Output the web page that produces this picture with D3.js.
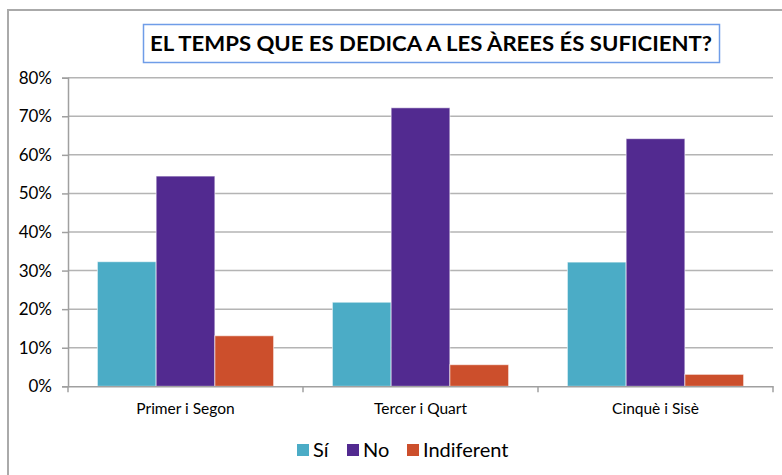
<!DOCTYPE html>
<html>
<head>
<meta charset="utf-8">
<script src="https://cdn.jsdelivr.net/npm/d3@7"></script>
<style>
  body { margin: 0; background: #fff; }
  text { font-family: Lato, "Open Sans", sans-serif; }
</style>
</head>
<body>
<svg id="chart"></svg>
<script>
const categories = ["Primer i Segon", "Tercer i Quart", "Cinquè i Sisè"];
const seriesNames = ["Sí", "No", "Indiferent"];
const siValues = [0.323, 0.218, 0.322];
const noValues = [0.545, 0.722, 0.642];
const indiferentValues = [0.131, 0.056, 0.031];
const yTicks = [0, 0.1, 0.2, 0.3, 0.4, 0.5, 0.6, 0.7, 0.8];
const colors = ["#4bacc6", "#522a90", "#cc4f2c"];
const title = "EL TEMPS QUE ES DEDICA A LES ÀREES ÉS SUFICIENT?";

const width = 782, height = 475;
const svg = d3.select("#chart").attr("width", width).attr("height", height);

// outer frame (top + left only visible)
svg.append("path")
    .attr("d", "M8,475 V10 H782")
    .attr("fill", "none")
    .attr("stroke", "#aaaaaa")
    .attr("stroke-width", 2);

// title box
svg.append("rect")
    .attr("x", 143.5).attr("y", 24.5)
    .attr("width", 576).attr("height", 38)
    .attr("fill", "#fff")
    .attr("stroke", "#6f9de8")
    .attr("stroke-width", 1.5);
svg.append("text")
    .attr("x", 431).attr("y", 51)
    .attr("text-anchor", "middle")
    .attr("font-size", 20)
    .attr("font-weight", "bold")
    .attr("textLength", 562)
    .attr("lengthAdjust", "spacingAndGlyphs")
    .text(title);

const plot = {left: 68, right: 773, top: 77.7, bottom: 386.3};

const x0 = d3.scaleBand().domain(categories).range([plot.left, plot.right]).padding(0);
const x1 = d3.scaleBand().domain(seriesNames)
    .range([x0.bandwidth() * 0.125, x0.bandwidth() * 0.875]).padding(0);
const y = d3.scaleLinear().domain([0, 0.8]).range([plot.bottom, plot.top]);

// gridlines
svg.append("g").selectAll("line")
    .data(yTicks.slice(1))
    .enter()
    .append("line")
    .attr("x1", plot.left).attr("x2", plot.right)
    .attr("y1", d => y(d)).attr("y2", d => y(d))
    .attr("stroke", "#b4b4b4")
    .attr("stroke-width", 1.5);

// y axis
const yAxis = svg.append("g")
    .attr("transform", `translate(${plot.left},0)`)
    .call(d3.axisLeft(y).tickValues(yTicks).tickFormat(d3.format(".0%")).tickSize(6).tickPadding(10));
yAxis.select(".domain").attr("stroke", "#a0a0a0").attr("stroke-width", 1.5);
yAxis.selectAll(".tick line").attr("stroke", "#a0a0a0").attr("stroke-width", 1.5);
yAxis.selectAll("text").attr("font-size", 17).attr("fill", "#000")
    .attr("font-family", "Lato, 'Open Sans', sans-serif");

// bars
const rows = categories.map((c, i) => ({
    cat: c,
    vals: [siValues[i], noValues[i], indiferentValues[i]]
}));

const groups = svg.append("g").selectAll("g")
    .data(rows)
    .enter()
    .append("g")
    .attr("transform", d => `translate(${x0(d.cat)},0)`);

groups.selectAll("rect")
    .data(d => d.vals.map((v, j) => ({name: seriesNames[j], value: v, j})))
    .enter()
    .append("rect")
    .attr("x", d => x1(d.name))
    .attr("width", x1.bandwidth())
    .attr("y", d => y(d.value))
    .attr("height", d => y(0) - y(d.value))
    .attr("fill", d => colors[d.j])
    .attr("stroke", "#ffffff")
    .attr("stroke-opacity", 0.6)
    .attr("stroke-width", 1);

// x axis
const xAxis = svg.append("g")
    .attr("transform", `translate(0,${plot.bottom})`)
    .call(d3.axisBottom(x0).tickSize(0).tickPadding(17));
xAxis.select(".domain").attr("stroke", "#a0a0a0").attr("stroke-width", 1.5);
xAxis.selectAll("text").attr("font-size", 15.5).attr("fill", "#000")
    .attr("font-family", "Lato, 'Open Sans', sans-serif");

// category separator ticks
svg.append("g").selectAll("line")
    .data(categories.map(c => x0(c)).concat([plot.right]))
    .enter()
    .append("line")
    .attr("x1", d => d).attr("x2", d => d)
    .attr("y1", plot.bottom).attr("y2", plot.bottom + 6)
    .attr("stroke", "#a0a0a0")
    .attr("stroke-width", 1.5);

// legend
const legendX = [297, 347, 407];
const legend = svg.append("g").selectAll("g")
    .data(seriesNames)
    .enter()
    .append("g")
    .attr("transform", (d, i) => `translate(${legendX[i]},444)`);
legend.append("rect")
    .attr("width", 12).attr("height", 12)
    .attr("fill", (d, i) => colors[i]);
legend.append("text")
    .attr("x", 16).attr("y", 13)
    .attr("font-size", 20)
    .text(d => d);
</script>
</body>
</html>
